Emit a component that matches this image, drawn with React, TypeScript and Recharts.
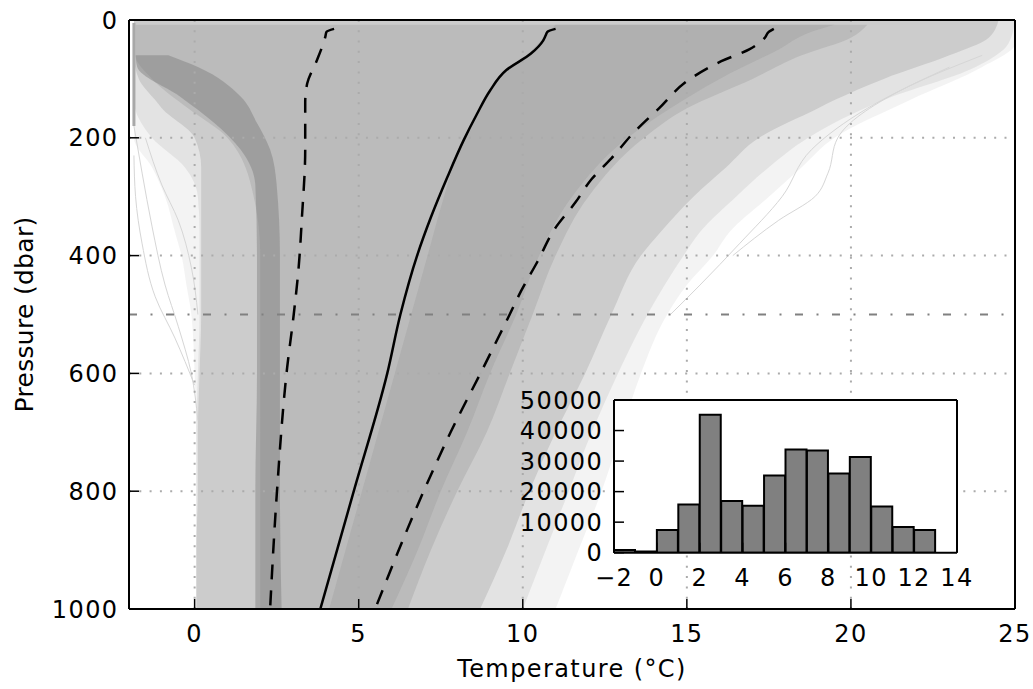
import React from "react";
import {
  ComposedChart,
  Area,
  Line,
  XAxis,
  YAxis,
  ReferenceLine,
  BarChart,
  Bar,
  CartesianGrid,
} from "recharts";

const FONT = "'DejaVu Sans', 'Liberation Sans', sans-serif";

// main axes
const tempTicks = [0, 5, 10, 15, 20, 25];
const pressureTicks = [0, 200, 400, 600, 800, 1000];
const gridTemps = [0, 5, 10, 15, 20];
const gridPressures = [200, 400, 600, 800];
const refPressure = 500;

// mean profile and mean +/- 1 std
const meanP = [15, 20, 26, 35, 57, 85, 120, 160, 204, 267, 335, 400, 500, 600, 800, 1000];
const meanT = [11.0, 10.75, 10.7, 10.62, 10.25, 9.5, 9.0, 8.6, 8.2, 7.7, 7.2, 6.78, 6.27, 5.87, 4.85, 3.83];
const lowP = [15, 20, 29, 68, 108, 140, 220, 335, 420, 500, 590, 800, 1000];
const lowT = [4.25, 4.02, 3.98, 3.73, 3.43, 3.37, 3.37, 3.27, 3.17, 3.02, 2.82, 2.51, 2.3];
const highP = [15, 20, 30, 50, 70, 100, 150, 190, 235, 270, 310, 355, 410, 460, 500, 590, 700, 800, 1000];
const highT = [17.65, 17.5, 17.38, 16.9, 16.05, 15.1, 14.15, 13.4, 12.7, 12.1, 11.6, 10.97, 10.45, 9.95, 9.6, 8.8, 7.8, 6.98, 5.5];

// grey cloud of individual profiles, read as nested bands (cold edge / warm edge)
const envP = [0, 40, 80, 136, 200, 250, 300, 360, 400, 450, 500, 600, 700, 800, 900, 1000];
const envLo = [-1.85, -1.85, -1.85, -1.85, -1.85, -1.3, -0.9, -0.6, -0.4, -0.25, -0.1, 0.0, 0.05, 0.05, 0.05, 0.05];
const envHi = [25, 25, 24, 21.8, 19.5, 18.5, 17.5, 16.3, 15.8, 15.0, 14.4, 13.6, 13.0, 12.4, 11.7, 11.0];

const lightP = [0, 40, 80, 136, 200, 250, 300, 360, 400, 500, 600, 700, 800, 900, 1000];
const lightLo = [-1.85, -1.85, -1.85, -1.85, -1.3, -0.3, 0.1, 0.15, 0.15, 0.15, 0.1, 0.05, 0.05, 0.05, 0.05];
const lightHi = [25, 24.8, 23.8, 21, 18.7, 17.5, 16.5, 15.4, 14.9, 13.8, 12.9, 12.1, 11.4, 10.7, 10.0];

const medP = [0, 30, 60, 100, 136, 150, 200, 250, 300, 360, 400, 500, 600, 700, 800, 900, 1000];
const medLo = [-1.85, -1.85, -1.85, -1.7, -1.2, -1.0, 0.0, 0.2, 0.2, 0.2, 0.2, 0.2, 0.15, 0.1, 0.1, 0.05, 0.05];
const medHi = [24.5, 24.2, 23.0, 21.0, 19.5, 19.0, 17.2, 16.2, 15.2, 14.2, 13.6, 12.7, 11.9, 11.0, 10.2, 9.5, 8.7];

const coreP = [8, 30, 60, 100, 150, 200, 300, 400, 500, 600, 700, 800, 900, 1000];
const coreLo = [-1.8, -1.8, -1.8, -1.3, -0.2, 1.0, 1.8, 2.0, 2.0, 2.0, 2.0, 2.0, 2.0, 2.0];
const coreHi = [20.5, 20, 18.5, 17, 15, 13.7, 12.0, 11.0, 10.3, 9.6, 8.9, 8.0, 7.2, 6.5];

const warmP = [8, 20, 50, 100, 150, 200, 300, 400, 500, 600, 700, 800, 900, 1000];
const warmLo = [11.0, 10.8, 10.3, 9.3, 8.7, 8.2, 7.6, 7.1, 6.6, 6.1, 5.6, 5.1, 4.6, 4.1];
const warmHi = [19.5, 18.8, 17.8, 16, 14.5, 13.2, 11.5, 10.5, 9.8, 9.0, 8.3, 7.5, 6.8, 6.0];

const coldP = [60, 80, 130, 175, 220, 280, 400, 600, 800, 1000];
const coldLo = [-1.8, -1.75, -0.45, 0.6, 1.4, 1.85, 1.9, 1.9, 1.85, 1.85];
const coldHi = [-0.8, 0.1, 1.4, 1.9, 2.3, 2.5, 2.6, 2.6, 2.6, 2.65];

// freezing-point pile-up and a few cold outliers
const freezeP = [5, 180];
const freezeT = [-1.85, -1.85];
const out1P = [180, 260, 350, 450, 520, 600, 680];
const out1T = [-1.85, -1.6, -1.3, -0.9, -0.5, -0.1, 0.1];
const out2P = [230, 300, 380, 470, 540, 620];
const out2T = [-1.85, -1.8, -1.6, -1.2, -0.6, 0.0];
const out3P = [200, 280, 340, 420, 500];
const out3T = [-1.5, -1.0, -0.5, -0.1, 0.1];
// a few warm outliers on the right edge
const warm1P = [60, 120, 200, 260, 300, 340, 400];
const warm1T = [24, 21.5, 19.6, 19.3, 18.9, 17.8, 16.4];
const warm2P = [80, 150, 220, 300, 380, 450, 500];
const warm2T = [23, 20.5, 18.8, 17.9, 16.6, 15.4, 14.5];

// inset histogram
const histStart = [-2, -1, 0, 1, 2, 3, 4, 5, 6, 7, 8, 9, 10, 11, 12];
const histCounts = [900, 400, 7400, 15800, 45200, 16900, 15400, 25300, 33800, 33500, 25900, 31300, 15100, 8400, 7400];
const histXTicks = [-2, 0, 2, 4, 6, 8, 10, 12, 14];
const histYTicks = [0, 10000, 20000, 30000, 40000, 50000];

const profile = (p: number[], t: number[]) => p.map((v, i) => ({ p: v, t: t[i] }));
const band = (p: number[], lo: number[], hi: number[]) =>
  p.map((v, i) => ({ p: v, t: [lo[i], hi[i]] }));

const histData = histStart.map((b, i) => ({ bin: String(b), x0: b, count: histCounts[i] }));

const tickStyle = { fontSize: 24, fill: "#000", fontFamily: FONT, letterSpacing: 1.4 };
const axisLine = { stroke: "#000", strokeWidth: 2 };
const tickLine = { stroke: "#000", strokeWidth: 1.5 };
const minus = (v: number) => String(v).replace("-", "\u2212");

const bands = [
  { data: band(envP, envLo, envHi), op: 0.09 },
  { data: band(lightP, lightLo, lightHi), op: 0.12 },
  { data: band(medP, medLo, medHi), op: 0.21 },
  { data: band(coreP, coreLo, coreHi), op: 0.2 },
  { data: band(warmP, warmLo, warmHi), op: 0.16 },
  { data: band(coldP, coldLo, coldHi), op: 0.42 },
];

const faintLines = [
  profile(out1P, out1T),
  profile(out2P, out2T),
  profile(out3P, out3T),
  profile(warm1P, warm1T),
  profile(warm2P, warm2T),
];

export default function App() {
  return (
    <div
      style={{
        position: "absolute",
        left: 0,
        top: 0,
        width: 1033,
        height: 689,
        background: "#fff",
        fontFamily: FONT,
      }}
    >
      <div style={{ position: "absolute", left: 0, top: 0 }}>
        <ComposedChart
          width={1033}
          height={689}
          layout="vertical"
          margin={{ top: 19, right: 17, bottom: 0, left: 0 }}
        >
          {bands.map((b, i) => (
            <Area
              key={`band-${i}`}
              data={b.data}
              dataKey="t"
              type="monotone"
              stroke="none"
              fill="#777777"
              fillOpacity={b.op}
              isAnimationActive={false}
            />
          ))}
          {faintLines.map((o, i) => (
            <Line
              key={`faint-${i}`}
              data={o}
              dataKey="t"
              type="monotone"
              stroke="#d6d6d6"
              strokeWidth={1}
              dot={false}
              isAnimationActive={false}
            />
          ))}
          <Line
            data={profile(freezeP, freezeT)}
            dataKey="t"
            stroke="#a8a8a8"
            strokeWidth={3}
            dot={false}
            isAnimationActive={false}
          />

          {/* dotted grid */}
          {gridTemps.map((t) => (
            <ReferenceLine key={`gx-${t}`} x={t} stroke="#ababab" strokeWidth={2} strokeDasharray="2 8.3" />
          ))}
          {gridPressures.map((p) => (
            <ReferenceLine key={`gy-${p}`} y={p} stroke="#ababab" strokeWidth={2} strokeDasharray="2 8.3" />
          ))}
          <ReferenceLine y={refPressure} stroke="#808080" strokeWidth={2} strokeDasharray="8 13.5 2 13.5" />

          <Line
            data={profile(lowP, lowT)}
            dataKey="t"
            type="monotone"
            stroke="#000"
            strokeWidth={2.5}
            strokeDasharray="15 11"
            dot={false}
            isAnimationActive={false}
          />
          <Line
            data={profile(highP, highT)}
            dataKey="t"
            type="monotone"
            stroke="#000"
            strokeWidth={2.5}
            strokeDasharray="15 11"
            dot={false}
            isAnimationActive={false}
          />
          <Line
            data={profile(meanP, meanT)}
            dataKey="t"
            type="monotone"
            stroke="#000"
            strokeWidth={2.5}
            dot={false}
            isAnimationActive={false}
          />

          <XAxis
            type="number"
            domain={[-2, 25]}
            ticks={tempTicks}
            interval={0}
            allowDataOverflow
            height={80}
            tickSize={-10}
            tickMargin={25.5}
            tick={tickStyle}
            axisLine={axisLine}
            tickLine={tickLine}
            label={(props: any) => {
              const vb = props.viewBox;
              return (
                <text
                  x={vb.x + vb.width / 2}
                  y={vb.y + 68}
                  textAnchor="middle"
                  fontSize={24}
                  letterSpacing={1.4}
                  fill="#000"
                  fontFamily={FONT}
                >
                  Temperature (°C)
                </text>
              );
            }}
          />
          <XAxis
            xAxisId="top"
            orientation="top"
            type="number"
            domain={[-2, 25]}
            ticks={tempTicks}
            interval={0}
            allowDataOverflow
            height={1}
            tickSize={-10}
            tick={false}
            axisLine={axisLine}
            tickLine={tickLine}
          />
          <YAxis
            type="number"
            dataKey="p"
            domain={[0, 1000]}
            ticks={pressureTicks}
            interval={0}
            allowDataOverflow
            width={129}
            tickSize={-10}
            tickMargin={20.5}
            tick={tickStyle}
            axisLine={axisLine}
            tickLine={tickLine}
            label={(props: any) => {
              const vb = props.viewBox;
              const cx = vb.x + 33;
              const cy = vb.y + vb.height / 2;
              return (
                <text
                  x={cx}
                  y={cy}
                  transform={`rotate(-90 ${cx} ${cy})`}
                  textAnchor="middle"
                  fontSize={25}
                  letterSpacing={0.3}
                  fill="#000"
                  fontFamily={FONT}
                >
                  Pressure (dbar)
                </text>
              );
            }}
          />
          <YAxis
            yAxisId="right"
            orientation="right"
            type="number"
            dataKey="p"
            domain={[0, 1000]}
            ticks={pressureTicks}
            interval={0}
            allowDataOverflow
            width={1}
            tickSize={-10}
            tick={false}
            axisLine={axisLine}
            tickLine={tickLine}
          />
        </ComposedChart>
      </div>

      {/* inset histogram */}
      <div style={{ position: "absolute", left: 0, top: 0 }}>
        <BarChart
          width={1033}
          height={689}
          data={histData}
          barCategoryGap={0}
          barGap={0}
          margin={{ top: 399, right: 75, bottom: 96.3, left: 514 }}
        >
          <CartesianGrid xAxisId="temp" stroke="none" fill="#ffffff" fillOpacity={1} />
          <Bar
            xAxisId="bins"
            dataKey="count"
            fill="#808080"
            stroke="#000"
            strokeWidth={2}
            isAnimationActive={false}
          />
          <XAxis xAxisId="bins" dataKey="bin" type="category" hide height={0} padding={{ left: 0, right: 343 / 16 }} />
          <XAxis
            xAxisId="temp"
            dataKey="x0"
            type="number"
            domain={[-2, 14]}
            ticks={histXTicks}
            interval={0}
            allowDataOverflow
            height={40}
            tickSize={-10}
            tickMargin={26}
            tick={tickStyle}
            tickFormatter={minus}
            axisLine={axisLine}
            tickLine={tickLine}
          />
          <XAxis
            xAxisId="top"
            dataKey="x0"
            orientation="top"
            type="number"
            domain={[-2, 14]}
            ticks={histXTicks}
            interval={0}
            allowDataOverflow
            height={1}
            tickSize={-10}
            tick={false}
            axisLine={axisLine}
            tickLine={tickLine}
          />
          <YAxis
            type="number"
            domain={[0, 50000]}
            ticks={histYTicks}
            interval={0}
            allowDataOverflow
            width={100}
            tickSize={-10}
            tickMargin={20.8}
            tick={tickStyle}
            axisLine={axisLine}
            tickLine={tickLine}
          />
          <YAxis
            yAxisId="right"
            orientation="right"
            type="number"
            domain={[0, 50000]}
            ticks={histYTicks}
            interval={0}
            allowDataOverflow
            width={1}
            tickSize={-10}
            tick={false}
            axisLine={axisLine}
            tickLine={tickLine}
          />
        </BarChart>
      </div>
    </div>
  );
}
